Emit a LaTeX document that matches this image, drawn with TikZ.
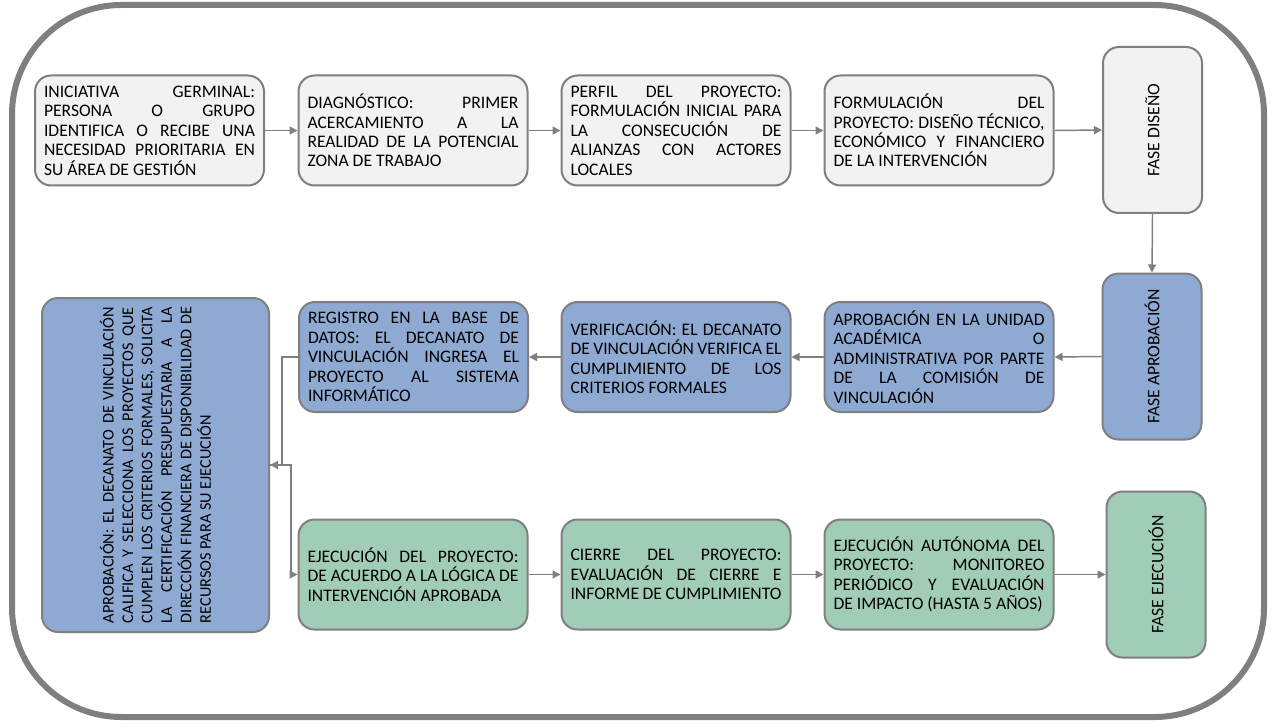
\documentclass[tikz,border=0pt]{standalone}
\usepackage{fontspec}
\setmainfont{Carlito}
\usetikzlibrary{arrows.meta}
\definecolor{borde}{HTML}{7F7F7F}
\definecolor{grisf}{HTML}{F2F2F2}
\definecolor{azulf}{HTML}{8EAAD2}
\definecolor{verdef}{HTML}{A1CCB7}
\hyphenpenalty=10000
\exhyphenpenalty=10000
\tolerance=9999
\tikzset{
  paso/.style={draw=borde,line width=1.5pt,rounded corners=12pt,
    minimum width=171.75pt,minimum height=82.5pt,text width=158.25pt,
    inner xsep=6.75pt,align=justify,font=\fontsize{13.2}{14.6}\selectfont},
  fase/.style={draw=borde,line width=1.5pt,rounded corners=12pt,rotate=90,
    minimum width=124.5pt,minimum height=74.25pt,align=center,
    font=\fontsize{13.2}{14.6}\selectfont},
  flecha/.style={draw=borde,line width=1.1pt,-{Triangle[length=6pt,width=6pt]}}
}

\begin{document}
\begin{tikzpicture}[x=0.75pt,y=-0.75pt]
  \useasboundingbox (0,0) rectangle (1276,727);
  \draw[draw=borde,line width=4.5pt,fill=white,rounded corners=82pt] (12,5) rectangle (1264,717);

  % fila superior
  \node[paso,fill=grisf] (ini) at (149.5,130.5) {INICIATIVA GERMINAL:\linebreak PERSONA O GRUPO\linebreak IDENTIFICA O RECIBE UNA\linebreak NECESIDAD PRIORITARIA EN\linebreak SU ÁREA DE GESTIÓN};
  \node[paso,fill=grisf] (diag) at (413,130.5) {DIAGNÓSTICO: PRIMER\linebreak ACERCAMIENTO A LA\linebreak REALIDAD DE LA POTENCIAL\linebreak ZONA DE TRABAJO};
  \node[paso,fill=grisf] (perfil) at (676,130.5) {PERFIL DEL PROYECTO:\linebreak FORMULACIÓN INICIAL PARA\linebreak LA CONSECUCIÓN DE\linebreak ALIANZAS CON ACTORES\linebreak LOCALES};
  \node[paso,fill=grisf] (formu) at (939,130.5) {FORMULACIÓN DEL\linebreak PROYECTO: DISEÑO TÉCNICO,\linebreak ECONÓMICO Y FINANCIERO\linebreak DE LA INTERVENCIÓN};
  \node[fase,fill=grisf] (fdis) at (1152.5,130) {FASE DISEÑO};

  % fila media
  \node[fase,fill=azulf] (faprob) at (1152,356.5) {FASE APROBACIÓN};
  \node[paso,fill=azulf] (unidad) at (939,357) {APROBACIÓN EN LA UNIDAD\linebreak ACADÉMICA O\linebreak ADMINISTRATIVA POR PARTE\linebreak DE LA COMISIÓN DE\linebreak VINCULACIÓN};
  \node[paso,fill=azulf] (verif) at (676,357) {VERIFICACIÓN: EL DECANATO\linebreak DE VINCULACIÓN VERIFICA EL\linebreak CUMPLIMIENTO DE LOS\linebreak CRITERIOS FORMALES};
  \node[paso,fill=azulf] (regis) at (413.5,357) {REGISTRO EN LA BASE DE\linebreak DATOS: EL DECANATO DE\linebreak VINCULACIÓN INGRESA EL\linebreak PROYECTO AL SISTEMA\linebreak INFORMÁTICO};
  \node[paso,fill=azulf,rotate=90,minimum width=250.5pt,minimum height=170.25pt,text width=237pt,
        font=\fontsize{12.2}{14.6}\selectfont] (aprob) at (155.5,465)
    {APROBACIÓN: EL DECANATO DE VINCULACIÓN\linebreak CALIFICA Y SELECCIONA LOS PROYECTOS QUE\linebreak CUMPLEN LOS CRITERIOS FORMALES, SOLICITA\linebreak LA CERTIFICACIÓN PRESUPUESTARIA A LA\linebreak DIRECCIÓN FINANCIERA DE DISPONIBILIDAD DE\linebreak RECURSOS PARA SU EJECUCIÓN};

  % fila inferior
  \node[paso,fill=verdef] (ejec) at (413,574.5) {EJECUCIÓN DEL PROYECTO:\linebreak DE ACUERDO A LA LÓGICA DE\linebreak INTERVENCIÓN APROBADA};
  \node[paso,fill=verdef] (cierre) at (676,574.5) {CIERRE DEL PROYECTO:\linebreak EVALUACIÓN DE CIERRE E\linebreak INFORME DE CUMPLIMIENTO};
  \node[paso,fill=verdef] (auto) at (939,574.5) {EJECUCIÓN AUTÓNOMA DEL\linebreak PROYECTO: MONITOREO\linebreak PERIÓDICO Y EVALUACIÓN\linebreak DE IMPACTO (HASTA 5 AÑOS)};
  \node[fase,fill=verdef] (feje) at (1156,574.5) {FASE EJECUCIÓN};

  % flechas
  \draw[flecha] (ini) -- (diag);
  \draw[flecha] (diag) -- (perfil);
  \draw[flecha] (perfil) -- (formu);
  \draw[flecha] (formu.east) -- (fdis.north);
  \draw[flecha] (fdis.west) -- (faprob.east);
  \draw[flecha] (faprob.north) -- (unidad.east);
  \draw[flecha] (unidad) -- (verif);
  \draw[flecha] (verif) -- (regis);
  \draw[flecha] (regis.west) -- ++(-16,0) |- (aprob.south);
  \draw[flecha] (aprob.south) -- ++(21,0) |- (ejec.west);
  \draw[flecha] (ejec) -- (cierre);
  \draw[flecha] (cierre) -- (auto);
  \draw[flecha] (auto.east) -- (feje.north);
\end{tikzpicture}
\end{document}
